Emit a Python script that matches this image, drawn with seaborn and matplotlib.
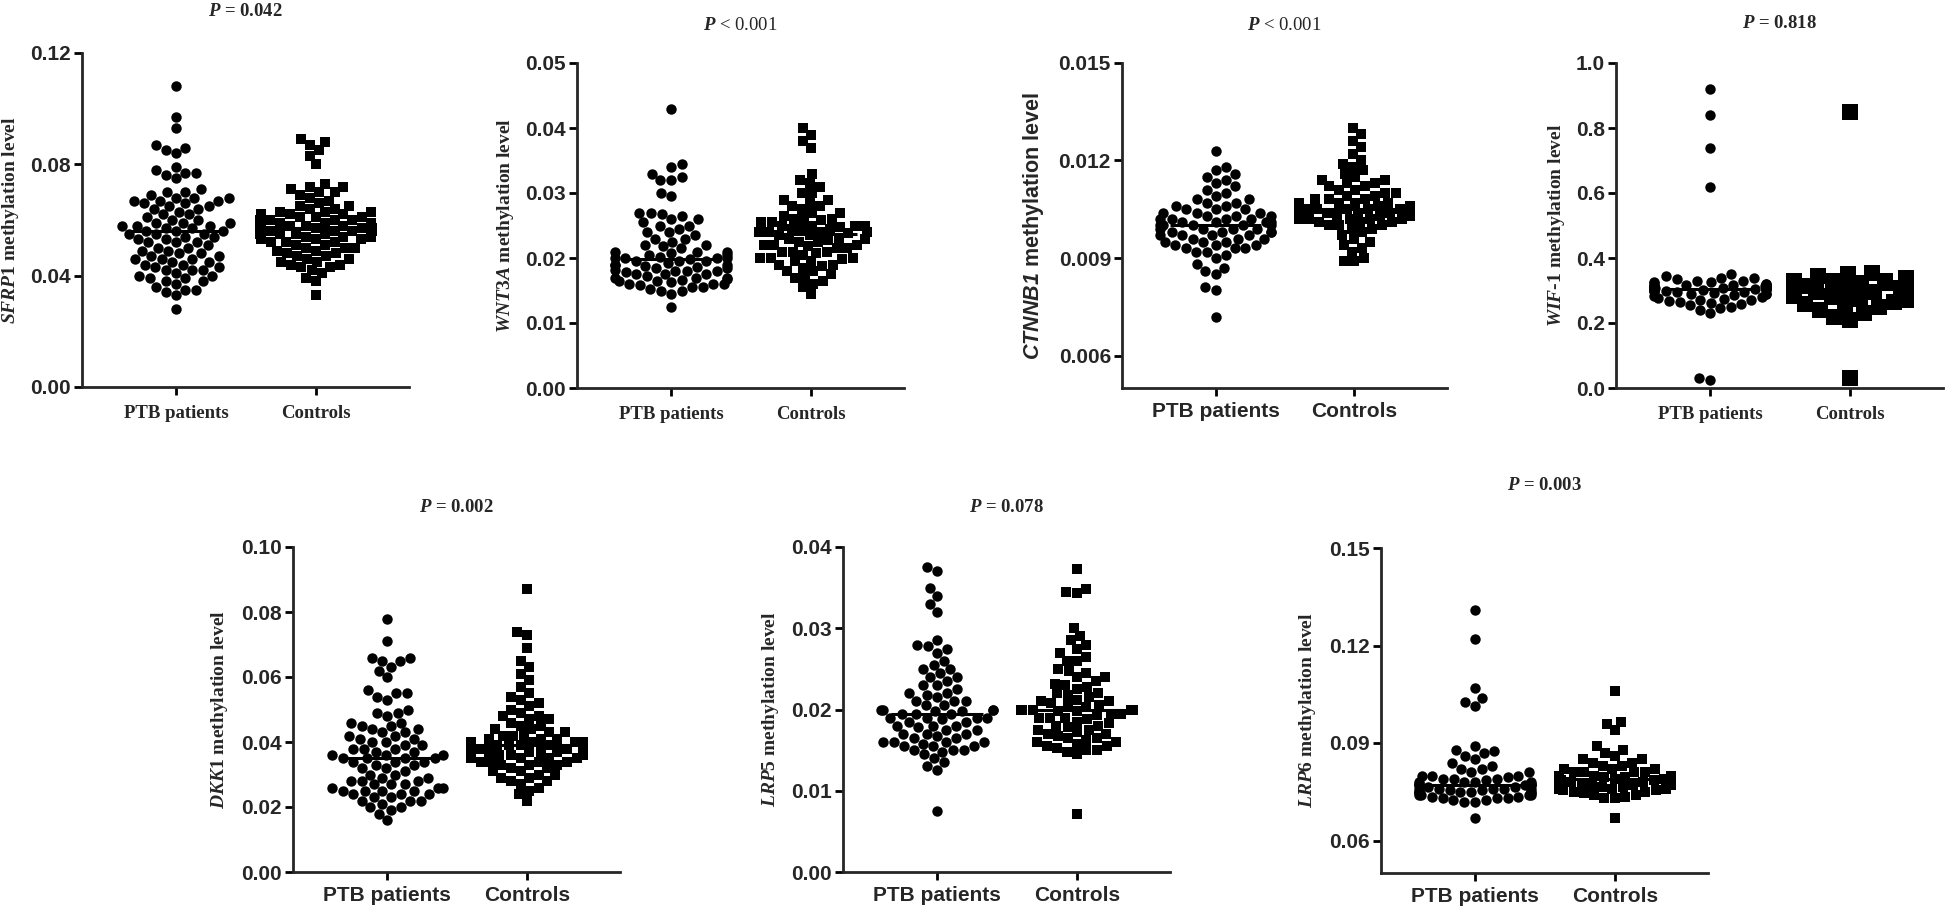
import numpy as np
import pandas as pd
import seaborn as sns
import matplotlib.pyplot as plt
import warnings
warnings.filterwarnings('ignore')

groups = ["PTB patients", "Controls"]
genes = ["SFRP1", "WNT3A", "CTNNB1", "WIF-1", "DKK1", "LRP5", "LRP6"]
p_texts = ["= 0.042", "< 0.001", "< 0.001", "= 0.818", "= 0.002", "= 0.078", "= 0.003"]

sfrp1_ptb = [0.108, 0.097, 0.093, 0.087, 0.086, 0.085, 0.084, 0.079, 0.078, 0.077, 0.077, 0.076, 0.075, 0.071,
             0.070, 0.070, 0.069, 0.068, 0.068, 0.068, 0.067, 0.067, 0.067, 0.066, 0.066, 0.065, 0.065, 0.064,
             0.064, 0.063, 0.062, 0.062, 0.061, 0.060, 0.060, 0.059, 0.059, 0.059, 0.058, 0.058, 0.058, 0.057,
             0.057, 0.056, 0.056, 0.056, 0.055, 0.055, 0.055, 0.054, 0.054, 0.053, 0.053, 0.052, 0.052, 0.052,
             0.051, 0.050, 0.050, 0.049, 0.049, 0.048, 0.048, 0.047, 0.047, 0.046, 0.046, 0.046, 0.045, 0.045,
             0.044, 0.044, 0.043, 0.043, 0.042, 0.042, 0.042, 0.041, 0.040, 0.040, 0.039, 0.039, 0.038, 0.038,
             0.037, 0.036, 0.035, 0.035, 0.034, 0.033, 0.028]
sfrp1_ctl = [0.089, 0.088, 0.087, 0.085, 0.083, 0.080, 0.073, 0.072, 0.072, 0.071, 0.070, 0.070, 0.069, 0.068,
             0.067, 0.066, 0.065, 0.065, 0.064, 0.064, 0.063, 0.063, 0.063, 0.062, 0.062, 0.062, 0.061, 0.061,
             0.061, 0.060, 0.060, 0.060, 0.060, 0.059, 0.059, 0.059, 0.058, 0.058, 0.058, 0.058, 0.057, 0.057,
             0.057, 0.057, 0.056, 0.056, 0.056, 0.056, 0.055, 0.055, 0.055, 0.055, 0.054, 0.054, 0.054, 0.053,
             0.053, 0.053, 0.052, 0.052, 0.052, 0.051, 0.051, 0.050, 0.050, 0.050, 0.049, 0.049, 0.048, 0.048,
             0.047, 0.047, 0.046, 0.046, 0.045, 0.045, 0.044, 0.044, 0.043, 0.043, 0.042, 0.041, 0.039, 0.038,
             0.033]

wnt3a_ptb = [0.043, 0.0345, 0.034, 0.033, 0.0325, 0.032, 0.032, 0.030, 0.0295, 0.027, 0.027, 0.0268, 0.0265,
             0.026, 0.026, 0.0255, 0.025, 0.025, 0.0245, 0.024, 0.024, 0.0235, 0.023, 0.023, 0.0225, 0.022, 0.022,
             0.0218, 0.0215, 0.021, 0.021, 0.021, 0.0208, 0.0205, 0.0205, 0.0202, 0.020, 0.020, 0.020, 0.020,
             0.0198, 0.0196, 0.0195, 0.0195, 0.0192, 0.019, 0.019, 0.019, 0.0188, 0.0186, 0.0185, 0.0185, 0.0182,
             0.018, 0.018, 0.018, 0.0178, 0.0176, 0.0175, 0.0175, 0.0172, 0.017, 0.017, 0.017, 0.0168, 0.0166,
             0.0165, 0.0165, 0.0163, 0.016, 0.016, 0.016, 0.0158, 0.0155, 0.0155, 0.0152, 0.015, 0.015, 0.0145,
             0.0125]
wnt3a_ctl = [0.040, 0.039, 0.038, 0.037, 0.033, 0.032, 0.0315, 0.031, 0.030, 0.030, 0.029, 0.029, 0.0285, 0.028,
             0.028, 0.0275, 0.027, 0.027, 0.0265, 0.026, 0.026, 0.026, 0.0258, 0.0255, 0.0255, 0.025, 0.025, 0.025,
             0.025, 0.0248, 0.0245, 0.0245, 0.0245, 0.024, 0.024, 0.024, 0.024, 0.0238, 0.0235, 0.0235, 0.023,
             0.023, 0.023, 0.0228, 0.0225, 0.0225, 0.022, 0.022, 0.022, 0.0218, 0.0215, 0.0215, 0.021, 0.021,
             0.021, 0.0208, 0.0205, 0.020, 0.020, 0.020, 0.0198, 0.0195, 0.0195, 0.019, 0.019, 0.0188, 0.0185,
             0.018, 0.018, 0.0175, 0.017, 0.017, 0.0165, 0.016, 0.0155, 0.0145]

ctnnb1_ptb = [0.0123, 0.0118, 0.0117, 0.0116, 0.0115, 0.0114, 0.0113, 0.0112, 0.0111, 0.0110, 0.0109, 0.0108,
              0.0108, 0.0107, 0.0107, 0.0106, 0.0106, 0.0105, 0.0105, 0.0105, 0.0104, 0.0104, 0.0104, 0.0103,
              0.0103, 0.0103, 0.0102, 0.0102, 0.0102, 0.0102, 0.0101, 0.0101, 0.0101, 0.0101, 0.0100, 0.0100,
              0.0100, 0.0100, 0.0100, 0.0099, 0.0099, 0.0099, 0.0099, 0.0098, 0.0098, 0.0098, 0.0098, 0.0097,
              0.0097, 0.0097, 0.0097, 0.0096, 0.0096, 0.0096, 0.0095, 0.0095, 0.0095, 0.0094, 0.0094, 0.0094,
              0.0093, 0.0093, 0.0093, 0.0092, 0.0092, 0.0091, 0.0090, 0.0088, 0.0087, 0.0086, 0.0085, 0.0081,
              0.0080, 0.0072]
ctnnb1_ctl = [0.0130, 0.0128, 0.0126, 0.0124, 0.0122, 0.0120, 0.0119, 0.0118, 0.0117, 0.0116, 0.0115, 0.0114,
              0.0114, 0.0113, 0.0113, 0.0112, 0.0112, 0.0111, 0.0111, 0.0110, 0.0110, 0.0109, 0.0109, 0.0108,
              0.0108, 0.0108, 0.0107, 0.0107, 0.0107, 0.0107, 0.0106, 0.0106, 0.0106, 0.0106, 0.0106, 0.0105,
              0.0105, 0.0105, 0.0105, 0.0105, 0.0105, 0.0104, 0.0104, 0.0104, 0.0104, 0.0104, 0.0104, 0.0103,
              0.0103, 0.0103, 0.0103, 0.0103, 0.0102, 0.0102, 0.0102, 0.0102, 0.0102, 0.0101, 0.0101, 0.0101,
              0.0100, 0.0100, 0.0100, 0.0099, 0.0099, 0.0098, 0.0097, 0.0096, 0.0095, 0.0094, 0.0093, 0.0092,
              0.0090, 0.0089, 0.0089]

wif1_ptb = [0.92, 0.84, 0.74, 0.62, 0.35, 0.345, 0.34, 0.34, 0.335, 0.33, 0.33, 0.325, 0.325, 0.322, 0.32, 0.32,
            0.318, 0.316, 0.315, 0.315, 0.315, 0.314, 0.313, 0.312, 0.312, 0.311, 0.31, 0.31, 0.31, 0.309, 0.308,
            0.307, 0.306, 0.305, 0.305, 0.304, 0.303, 0.302, 0.301, 0.30, 0.30, 0.298, 0.296, 0.295, 0.293, 0.29,
            0.29, 0.288, 0.285, 0.283, 0.28, 0.278, 0.275, 0.272, 0.27, 0.268, 0.265, 0.262, 0.26, 0.255, 0.25,
            0.245, 0.24, 0.23, 0.03, 0.025]
wif1_ctl = [0.85, 0.355, 0.35, 0.345, 0.34, 0.335, 0.33, 0.33, 0.328, 0.325, 0.325, 0.322, 0.32, 0.32, 0.318,
            0.316, 0.315, 0.315, 0.314, 0.313, 0.312, 0.311, 0.31, 0.31, 0.309, 0.308, 0.307, 0.306, 0.305, 0.305,
            0.304, 0.303, 0.302, 0.30, 0.30, 0.298, 0.296, 0.294, 0.292, 0.29, 0.288, 0.285, 0.282, 0.28, 0.275,
            0.27, 0.265, 0.26, 0.255, 0.25, 0.24, 0.23, 0.22, 0.21, 0.03]

dkk1_ptb = [0.078, 0.071, 0.066, 0.066, 0.065, 0.065, 0.063, 0.062, 0.060, 0.056, 0.055, 0.055, 0.054, 0.053,
            0.050, 0.049, 0.049, 0.048, 0.046, 0.046, 0.045, 0.045, 0.044, 0.044, 0.043, 0.043, 0.042, 0.042,
            0.041, 0.041, 0.040, 0.040, 0.039, 0.039, 0.038, 0.038, 0.038, 0.037, 0.037, 0.036, 0.036, 0.036,
            0.035, 0.035, 0.035, 0.035, 0.034, 0.034, 0.034, 0.033, 0.033, 0.032, 0.032, 0.031, 0.030, 0.030,
            0.029, 0.029, 0.028, 0.028, 0.028, 0.027, 0.027, 0.027, 0.026, 0.026, 0.026, 0.025, 0.025, 0.025,
            0.025, 0.024, 0.024, 0.024, 0.023, 0.023, 0.022, 0.022, 0.022, 0.021, 0.020, 0.020, 0.019, 0.018,
            0.016]
dkk1_ctl = [0.087, 0.074, 0.073, 0.069, 0.065, 0.063, 0.061, 0.059, 0.057, 0.055, 0.054, 0.053, 0.052, 0.051,
            0.050, 0.049, 0.048, 0.048, 0.047, 0.047, 0.046, 0.045, 0.045, 0.044, 0.044, 0.043, 0.043, 0.042,
            0.042, 0.042, 0.041, 0.041, 0.041, 0.040, 0.040, 0.040, 0.040, 0.039, 0.039, 0.039, 0.039, 0.038,
            0.038, 0.038, 0.038, 0.038, 0.037, 0.037, 0.037, 0.037, 0.036, 0.036, 0.036, 0.036, 0.035, 0.035,
            0.035, 0.035, 0.034, 0.034, 0.034, 0.034, 0.033, 0.033, 0.033, 0.032, 0.032, 0.031, 0.031, 0.030,
            0.030, 0.029, 0.029, 0.028, 0.028, 0.027, 0.026, 0.025, 0.024, 0.022]

lrp5_ptb = [0.0375, 0.037, 0.035, 0.034, 0.033, 0.032, 0.0285, 0.028, 0.0278, 0.0275, 0.027, 0.026, 0.0255,
            0.025, 0.025, 0.0245, 0.024, 0.024, 0.0235, 0.023, 0.023, 0.0225, 0.022, 0.022, 0.0218, 0.0215,
            0.021, 0.021, 0.021, 0.0205, 0.0205, 0.020, 0.020, 0.020, 0.020, 0.0198, 0.0198, 0.0195, 0.0195,
            0.0195, 0.019, 0.019, 0.019, 0.019, 0.0188, 0.0185, 0.0185, 0.018, 0.018, 0.018, 0.0178, 0.0175,
            0.0175, 0.017, 0.017, 0.017, 0.0168, 0.0165, 0.0165, 0.016, 0.016, 0.016, 0.016, 0.0158, 0.0155,
            0.0155, 0.0155, 0.015, 0.015, 0.015, 0.0148, 0.0145, 0.014, 0.0135, 0.013, 0.0125, 0.0075]
lrp5_ctl = [0.0373, 0.0348, 0.0345, 0.0343, 0.030, 0.029, 0.0285, 0.028, 0.0275, 0.027, 0.0265, 0.026, 0.026,
            0.025, 0.0248, 0.0245, 0.024, 0.024, 0.0235, 0.0232, 0.023, 0.0228, 0.0225, 0.022, 0.022, 0.0218,
            0.0215, 0.0212, 0.021, 0.021, 0.0208, 0.0205, 0.0205, 0.0203, 0.020, 0.020, 0.020, 0.020, 0.020,
            0.0198, 0.0198, 0.0195, 0.0195, 0.0193, 0.019, 0.019, 0.019, 0.0188, 0.0185, 0.0183, 0.018, 0.018,
            0.0178, 0.0175, 0.0175, 0.0172, 0.017, 0.017, 0.0168, 0.0165, 0.0165, 0.0163, 0.016, 0.016, 0.0158,
            0.0155, 0.0155, 0.0153, 0.015, 0.015, 0.0148, 0.0145, 0.0072]

lrp6_ptb = [0.131, 0.122, 0.107, 0.104, 0.1025, 0.1015, 0.089, 0.088, 0.0875, 0.087, 0.086, 0.085, 0.084, 0.083,
            0.082, 0.082, 0.081, 0.081, 0.080, 0.080, 0.080, 0.0795, 0.079, 0.079, 0.079, 0.0785, 0.078, 0.078,
            0.078, 0.078, 0.0775, 0.0775, 0.077, 0.077, 0.077, 0.077, 0.077, 0.0765, 0.0765, 0.076, 0.076, 0.076,
            0.076, 0.076, 0.0755, 0.0755, 0.075, 0.075, 0.075, 0.075, 0.075, 0.0745, 0.0745, 0.074, 0.074, 0.074,
            0.074, 0.0735, 0.0735, 0.073, 0.073, 0.073, 0.0725, 0.0725, 0.072, 0.072, 0.067]
lrp6_ctl = [0.106, 0.0965, 0.096, 0.094, 0.089, 0.088, 0.087, 0.086, 0.085, 0.085, 0.084, 0.084, 0.083, 0.083,
            0.082, 0.082, 0.082, 0.081, 0.081, 0.081, 0.081, 0.080, 0.080, 0.080, 0.080, 0.080, 0.0795, 0.0795,
            0.0795, 0.079, 0.079, 0.079, 0.079, 0.079, 0.0785, 0.0785, 0.0785, 0.078, 0.078, 0.078, 0.078, 0.078,
            0.0775, 0.0775, 0.0775, 0.077, 0.077, 0.077, 0.077, 0.0765, 0.0765, 0.076, 0.076, 0.076, 0.0755,
            0.0755, 0.075, 0.075, 0.0745, 0.074, 0.074, 0.0735, 0.073, 0.073, 0.067]

ptb_values = [sfrp1_ptb, wnt3a_ptb, ctnnb1_ptb, wif1_ptb, dkk1_ptb, lrp5_ptb, lrp6_ptb]
ctl_values = [sfrp1_ctl, wnt3a_ctl, ctnnb1_ctl, wif1_ctl, dkk1_ctl, lrp5_ctl, lrp6_ctl]

y_ticks = [[0, 0.04, 0.08, 0.12],
           [0, 0.01, 0.02, 0.03, 0.04, 0.05],
           [0.006, 0.009, 0.012, 0.015],
           [0, 0.2, 0.4, 0.6, 0.8, 1.0],
           [0, 0.02, 0.04, 0.06, 0.08, 0.10],
           [0, 0.01, 0.02, 0.03, 0.04],
           [0.06, 0.09, 0.12, 0.15]]
y_limits = [(0, 0.12), (0, 0.05), (0.005, 0.015), (0, 1.0), (0, 0.10), (0, 0.04), (0.05, 0.15)]
y_formats = ["%.2f", "%.2f", "%.3f", "%.1f", "%.2f", "%.2f", "%.2f"]

# layout in pixels: left, right, top, bottom of each axes box
boxes = [(82, 409, 53, 387), (577, 904, 63, 388), (1122, 1447, 63, 388), (1616, 1943, 63, 388),
         (293, 620, 547, 872), (843, 1170, 547, 872), (1381, 1708, 548, 873)]
ylabel_x = [11, 505, 1033, 1557, 220, 771, 1308]
ptext_y = [12, 25, 25, 23, 507, 507, 485]
serif_xlabels = [True, True, False, True, False, False, False]
serif_ylabel = [True, True, False, True, True, True, True]
ctl_size = [7.2, 7.2, 7.2, 11, 7.2, 7.2, 7.2]

W, H = 1949, 916
sns.set_style("ticks")
plt.rcParams['font.family'] = ['Liberation Sans', 'DejaVu Sans']
plt.rcParams['mathtext.fontset'] = 'custom'
plt.rcParams['mathtext.it'] = 'Liberation Serif:italic:bold'
plt.rcParams['mathtext.sf'] = 'Liberation Sans:italic:bold'
plt.rcParams['mathtext.rm'] = 'Liberation Serif:bold'

fig = plt.figure(figsize=(W / 100, H / 100), dpi=100)

for i, gene in enumerate(genes):
    l, r, t, b = boxes[i]
    ax = fig.add_axes([l / W, 1 - b / H, (r - l) / W, (b - t) / H])
    df = pd.DataFrame({
        "group": [groups[0]] * len(ptb_values[i]) + [groups[1]] * len(ctl_values[i]),
        "value": ptb_values[i] + ctl_values[i],
    })
    sns.swarmplot(data=df[df["group"] == groups[0]], x="group", y="value", order=groups,
                  color="black", marker="o", size=7.5, linewidth=0, warn_thresh=1, ax=ax)
    sns.swarmplot(data=df[df["group"] == groups[1]], x="group", y="value", order=groups,
                  color="black", marker="s", size=ctl_size[i], linewidth=0, warn_thresh=1, ax=ax)
    sns.boxplot(data=df, x="group", y="value", order=groups, width=0.66,
                showbox=False, showcaps=False, showfliers=False,
                whiskerprops={"visible": False},
                medianprops={"color": "black", "linewidth": 2.2, "zorder": 5}, ax=ax)

    ax.set_xlim(-0.674, 1.667)
    ax.set_ylim(*y_limits[i])
    ax.set_yticks(y_ticks[i])
    ax.set_yticklabels([y_formats[i] % v for v in y_ticks[i]])
    sns.despine(ax=ax)
    for s in ["left", "bottom"]:
        ax.spines[s].set_linewidth(2)
    ax.tick_params(width=2, length=6, color="black")
    ax.tick_params(axis="y", pad=2)
    ax.set_xlabel("")
    ax.set_ylabel("")
    for lab in ax.get_yticklabels():
        lab.set_fontfamily("Liberation Sans")
        lab.set_fontweight("bold")
        lab.set_fontsize(15)
    for lab in ax.get_xticklabels():
        if serif_xlabels[i]:
            lab.set_fontfamily("Liberation Serif")
            lab.set_fontsize(13.5)
        else:
            lab.set_fontfamily("Liberation Sans")
            lab.set_fontsize(15)
        lab.set_fontweight("bold")
    ax.tick_params(axis="x", pad=7 if serif_xlabels[i] else 4)

    # gene names in italics; a hyphen goes outside the math so it is not set as a minus sign
    parts = gene.split("-")
    yc = 1 - (t + b) / 2 / H
    if serif_ylabel[i]:
        name = "-".join(r"$\mathit{%s}$" % p for p in parts)
        fig.text(ylabel_x[i] / W, yc, name + " methylation level", rotation=90,
                 ha="center", va="center", fontfamily="Liberation Serif", fontweight="bold", fontsize=14)
    else:
        name = "-".join(r"$\mathsf{%s}$" % p for p in parts)
        fig.text(ylabel_x[i] / W, yc, name + " methylation level", rotation=90,
                 ha="center", va="center", fontfamily="Liberation Sans", fontweight="bold", fontsize=15.5)

    weight = "bold" if p_texts[i].startswith("=") else "normal"
    fig.text((l + r) / 2 / W, 1 - ptext_y[i] / H, r"$\mathit{P}$ " + p_texts[i], ha="center", va="center",
             fontfamily="Liberation Serif", fontweight=weight, fontsize=13.5)

fig.savefig("out.png", dpi=100)
